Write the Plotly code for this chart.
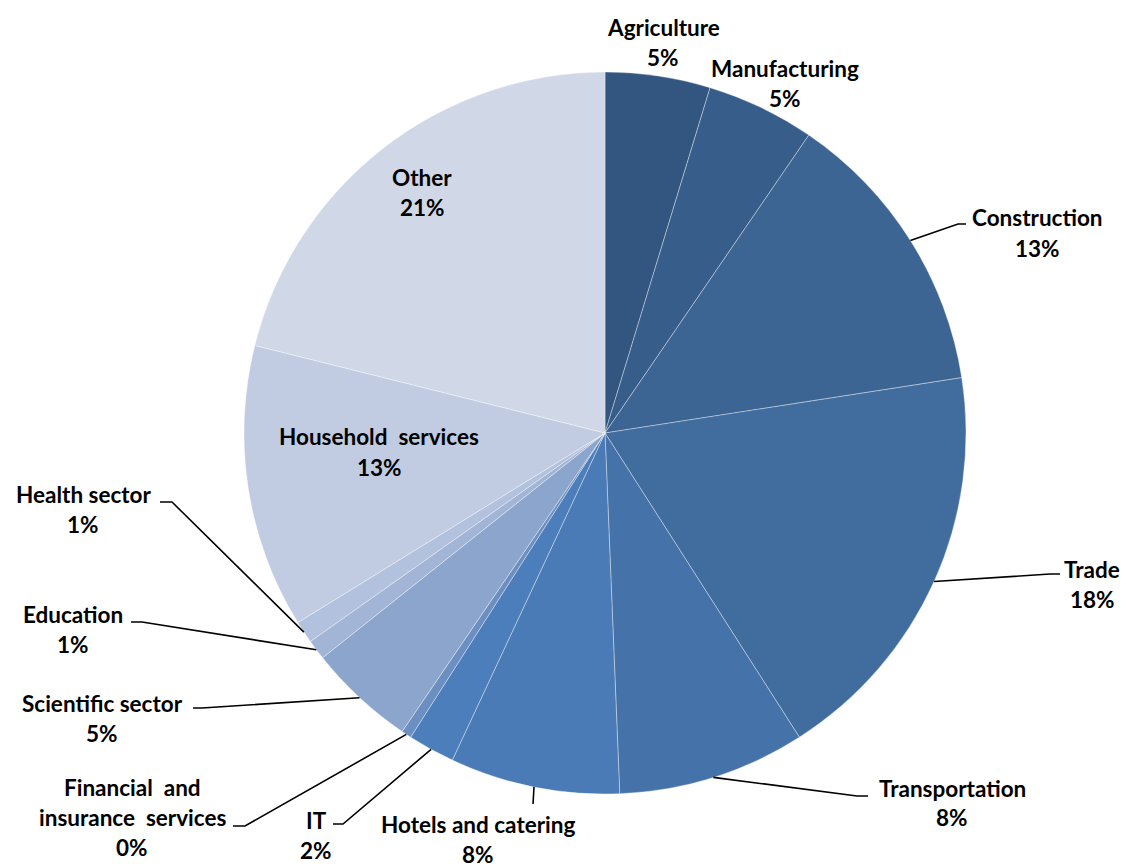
import math
import plotly.graph_objects as go

# ---- data ----
sectors = ["Agriculture", "Manufacturing", "Construction", "Trade", "Transportation",
           "Hotels and catering", "IT", "Financial and insurance services",
           "Scientific sector", "Education", "Health sector", "Household services", "Other"]
shares = [4.7, 4.85, 13.0, 18.4, 8.4, 7.6, 2.1, 0.45, 4.8, 0.9, 1.0, 12.7, 21.1]
display_names = [["Agriculture"], ["Manufacturing"], ["Construction"], ["Trade"], ["Transportation"],
                 ["Hotels and catering"], ["IT"], ["Financial  and", "insurance  services"],
                 ["Scientific sector"], ["Education"], ["Health sector"], ["Household  services"], ["Other"]]
colors = ["#32567F", "#375D8A", "#3C6594", "#416C9E", "#4573A9", "#4A7BB6", "#4C7EBB",
          "#6C8FC2", "#8CA5CD", "#A3B5D6", "#B2C1DD", "#C1CCE2", "#D0D8E8"]

# ---- layout (page pixels; the page body adds an 8px offset) ----
OFF = 8
W, H = 1130 - OFF, 868 - OFF
# pie placement in page pixels
PCX, PCY, PR = 605, 433, 361
ML, MT = PCX - PR - OFF, PCY - PR - OFF
MR, MB = W - ML - 2 * PR, H - MT - 2 * PR
PW, PH = 2 * PR, 2 * PR

# label text centre (x, first line y) and leader line elbow/end points, page pixels
label_pos = [(663, 28), (785, 69), (1037, 218), (1092, 569), (952, 788), (478, 824),
             (316, 820), (132, 787), (102, 703), (73, 614), (83, 494), (379, 437), (422, 177)]
leaders = {2: [(958, 224), (966, 224)], 3: [(1050, 574), (1060, 574)],
           4: [(857, 796), (868, 796)], 5: [(533, 804)], 6: [(343, 824), (333, 824)],
           7: [(245, 826), (233, 826)], 8: [(202, 708), (193, 708)],
           9: [(142, 622), (131, 622)], 10: [(172, 502), (160, 502)]}
LINE_GAP = 30


def px(x):
    return (x - OFF - ML) / PW


def py(y):
    return (H - MB - (y - OFF)) / PH


fig = go.Figure(go.Pie(
    labels=sectors, values=shares, sort=False, direction="clockwise", rotation=0,
    marker=dict(colors=colors, line=dict(color="rgba(255,255,255,0.45)", width=0.8)),
    textinfo="none", hoverinfo="label+percent", showlegend=False,
))

total = sum(shares)
annotations, shapes = [], []
cum = 0.0
for i, (name_lines, v) in enumerate(zip(display_names, shares)):
    mid = (cum + v / 2) / total * 2 * math.pi
    cum += v
    pct = int(v / total * 100 + 0.5)
    lines = name_lines + [f"{pct}%"]
    lx, ly = label_pos[i]
    for k, t in enumerate(lines):
        annotations.append(dict(x=px(lx), y=py(ly + k * LINE_GAP), xref="paper", yref="paper",
                                text=f"<b>{t}</b>", showarrow=False, xanchor="center",
                                yanchor="middle", font=dict(family="Lato", size=22.5, color="black")))
    if i in leaders:
        ex, ey = PCX + PR * math.sin(mid), PCY - PR * math.cos(mid)
        pts = [(ex, ey)] + leaders[i]
        path = "M " + " L ".join(f"{px(a):.5f},{py(b):.5f}" for a, b in pts)
        shapes.append(dict(type="path", path=path, xref="paper", yref="paper",
                           line=dict(color="black", width=1.6)))

fig.update_layout(
    width=W, height=H, margin=dict(l=ML, r=MR, t=MT, b=MB),
    paper_bgcolor="white", plot_bgcolor="white",
    annotations=annotations, shapes=shapes,
)
fig.write_html("out.html")
